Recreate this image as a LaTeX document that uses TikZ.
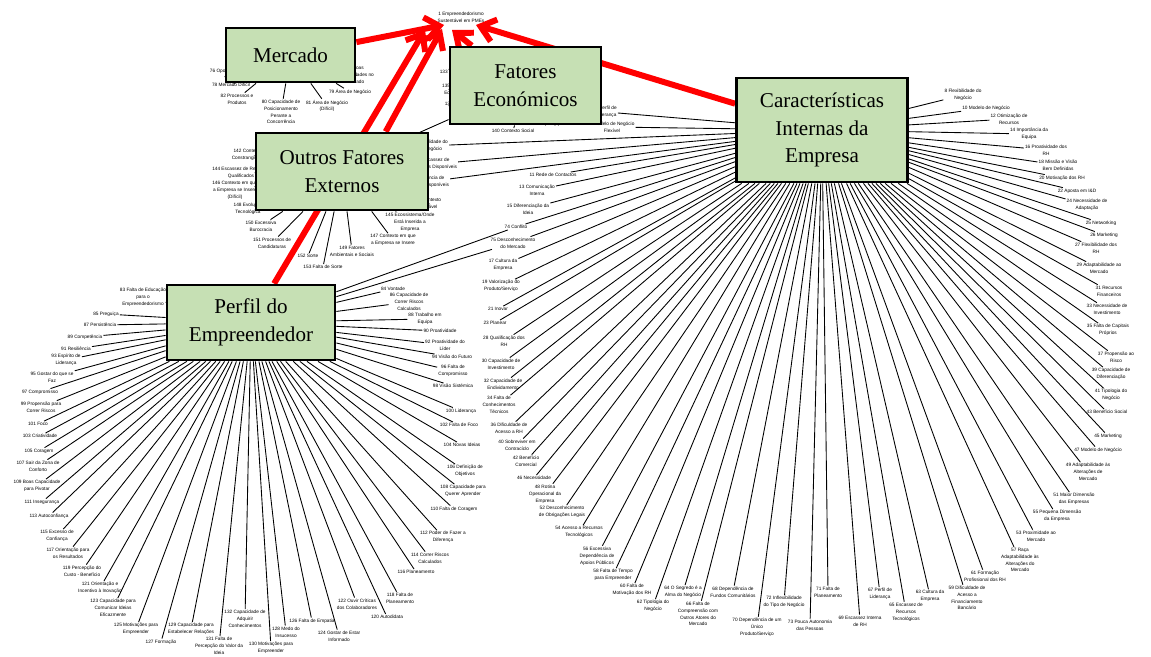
\documentclass[tikz,border=0pt]{standalone}
\usepackage{fontspec}
\newfontfamily\lblfont{Liberation Sans}
\newfontfamily\boxfont{Liberation Serif}
\usetikzlibrary{arrows.meta,calc}
\definecolor{boxgreen}{RGB}{198,224,180}
\pgfdeclarelayer{back}
\pgfdeclarelayer{mid}
\pgfsetlayers{back,mid,main}
\tikzset{
  cluster/.style={draw,line width=1.6pt,fill=boxgreen,align=center,
                  font=\boxfont\fontsize{12}{15.6}\selectfont,inner sep=0pt},
  idea/.style   ={align=center,font=\lblfont\fontsize{2.7}{3.9}\selectfont,inner sep=0.5pt},
  lnk/.style    ={line width=0.5pt},
  hit/.style    ={red,line width=3.4pt,-{Straight Barb[length=8pt,width=13pt]}},
}

\begin{document}
\begin{tikzpicture}[x=0.02cm,y=-0.02cm]
\useasboundingbox (0,0) rectangle (1151,656);
% clusters
\node[cluster,minimum width=2.58cm,minimum height=1.08cm] (mer) at (290.5,55) {Mercado};
\node[cluster,minimum width=3.02cm,minimum height=1.54cm] (fat) at (525.5,85.5) {Fatores\\Económicos};
\node[cluster,minimum width=3.44cm,minimum height=1.54cm] (out) at (342,171.5) {Outros Fatores\\Externos};
\node[cluster,minimum width=3.42cm,minimum height=2.08cm] (car) at (822,130) {Características\\Internas da\\Empresa};
\node[cluster,minimum width=3.36cm,minimum height=1.50cm] (per) at (251,322.5) {Perfil do\\Empreendedor};
\node[idea] (emp) at (461,17) {1 Empreendedorismo\\Sustentável em PMEs};

\coordinate (tm) at (444,25);
\coordinate (tp) at (425,30);
\coordinate (to) at (442,29);
\coordinate (tf) at (452,30);
\coordinate (tc) at (476,25);
\coordinate (hid) at (380,150);

\begin{pgfonlayer}{back}
% caracteristicas internas
\foreach \n/\x/\y/\t in {
  4/612/127/{4 Modelo de Negócio\\Flexível},
  6/606/112/{6 Perfil de\\Liderança},
  8/963/95/{8 Flexibilidade do\\Negócio},
  10/986/108/{10 Modelo de Negócio},
  12/1009/119/{12 Otimização de\\Recursos},
  14/1029/134/{14 Importância da\\Equipa},
  16/1046/150/{16 Proatividade dos\\RH},
  18/1058/165/{18 Missão e Visão\\Bem Definidas},
  20/1062/178/{20 Motivação dos RH},
  22/1077/191/{22 Aposta em I\&D},
  24/1087/205/{24 Necessidade de\\Adaptação},
  25/1101/223/{25 Networking},
  26/1104/235/{26 Marketing},
  27/1096/248/{27 Flexibilidade dos\\RH},
  29/1099/268/{29 Adaptabilidade ao\\Mercado},
  31/1109/291/{31 Recursos\\Financeiros},
  33/1107/309/{33 Necessidade de\\Investimento},
  35/1108/330/{35 Falta de Capitais\\Próprios},
  37/1116/357/{37 Propensão ao\\Risco},
  39/1111/374/{39 Capacidade de\\Diferenciação},
  41/1111/395/{41 Tipologia do\\Negócio},
  43/1107/412/{43 Benefício Social},
  45/1108/436/{45 Marketing},
  47/1098/450/{47 Modelo de Negócio},
  49/1088/472/{49 Adaptabilidade às\\Alterações de\\Mercado},
  51/1074/499/{51 Maior Dimensão\\das Empresas},
  55/1057/516/{55 Pequena Dimensão\\da Empresa},
  53/1036/536/{53 Proximidade ao\\Mercado},
  57/1020/560/{57 Raça\\Adaptabilidade às\\Alterações do\\Mercado},
  61/985/576/{61 Formação\\Profissional dos RH},
  59/967/598/{59 Dificuldade de\\Acesso a\\Financiamento\\Bancário},
  63/930/596/{63 Cultura da\\Empresa},
  65/906/612/{65 Escassez de\\Recursos\\Tecnológicos},
  67/880/594/{67 Perfil de\\Liderança},
  69/860/621/{69 Escassez Interna\\de RH},
  71/828/592/{71 Falta de\\Planeamento},
  73/810/625/{73 Pouca Autonomia\\das Pessoas},
  72/784/602/{72 Inflexibilidade\\do Tipo de Negócio},
  70/757/627/{70 Dependência de um\\Único\\Produto/Serviço},
  68/733/592/{68 Dependência de\\Fundos Comunitários},
  66/698/614/{66 Falta de\\Compreensão com\\Outros Atores do\\Mercado},
  64/683/592/{64 O Segredo é a\\Alma do Negócio},
  62/653/606/{62 Tipologia do\\Negócio},
  60/632/590/{60 Falta de\\Motivação dos RH},
  58/613/575/{58 Falta de Tempo\\para Empreender},
  56/597/556/{56 Excessiva\\Dependência de\\Apoios Públicos},
  54/579/532/{54 Acesso a Recursos\\Tecnológicos},
  52/562/512/{52 Desconhecimento\\de Obrigações Legais},
  48/545/494/{48 Rotina\\Operacional da\\Empresa},
  46/534/478/{46 Necessidade},
  42/526/461/{42 Benefício\\Comercial},
  40/517/445/{40 Sobreviver em\\Contracíclo},
  36/509/428/{36 Dificuldade de\\Acesso a RH},
  34/499/405/{34 Falta de\\Conhecimentos\\Técnicos},
  32/503/384/{32 Capacidade de\\Endividamento},
  30/501/364/{30 Capacidade de\\Investimento},
  28/504/341/{28 Qualificação dos\\RH},
  23/495/323/{23 Planear},
  21/498/309/{21 Inovar},
  19/501/286/{19 Valorização do\\Produto/Serviço},
  17/503/265/{17 Cultura da\\Empresa},
  75/513/243/{75 Desconhecimento\\do Mercado},
  74/516/227/{74 Conflito},
  15/528/209/{15 Diferenciação da\\Ideia},
  13/537/190/{13 Comunicação\\Interna},
  11/553/175/{11 Rede de Contactos},
  9/425/146/{9 Sustentabilidade do\\Próprio Negócio},
  7/434/164/{7 Escassez de\\Recursos Disponíveis},
  5/426/182/{5 Insuficiência de\\Recursos Disponíveis}}
  {\node[idea] (n\n) at (\x,\y) {\t}; \draw[lnk] (car) -- (n\n);}
% perfil do empreendedor
\foreach \n/\x/\y/\t in {
  83/143/297/{83 Falta de Educação\\para o\\Empreendedorismo},
  85/106/314/{85 Preguiça},
  87/100/325/{87 Persistência},
  89/85/337/{89 Competência},
  91/76/349/{91 Resiliência},
  93/66/360/{93 Espírito de\\Liderança},
  95/52/377/{95 Gostar do que se\\Faz},
  97/40/392/{97 Compromisso},
  99/41/407/{99 Propensão para\\Correr Riscos},
  101/38/424/{101 Foco},
  103/40/436/{103 Criatividade},
  105/39/451/{105 Coragem},
  107/38/466/{107 Sair da Zona de\\Conforto},
  109/37/486/{109 Boas Capacidade\\para Pivotar},
  111/42/502/{111 Insegurança},
  113/49/516/{113 Autoconfiança},
  115/57/536/{115 Excesso de\\Confiança},
  117/68/553/{117 Orientação para\\os Resultados},
  119/82/571/{119 Percepção do\\Custo - Benefício},
  121/100/588/{121 Orientação e\\Incentivo à Inovação},
  123/113/608/{123 Capacidade para\\Comunicar Ideias\\Eficazmente},
  125/136/629/{125 Motivações para\\Empreender},
  127/161/642/{127 Formação},
  129/191/629/{129 Capacidade para\\Estabelecer Relações},
  131/219/646/{131 Falta de\\Percepção do Valor da\\Ideia},
  132/245/619/{132 Capacidade de\\Adquirir\\Conhecimentos},
  130/271/648/{130 Motivações para\\Empreender},
  128/286/632/{128 Medo do\\Insucesso},
  126/312/621/{126 Falta de Empatia},
  124/339/636/{124 Gostar de Estar\\Informado},
  122/357/604/{122 Ouvir Críticas\\dos Colaboradores},
  120/387/617/{120 Autodidata},
  118/400/598/{118 Falta de\\Planeamento},
  116/416/572/{116 Planeamento},
  114/430/558/{114 Correr Riscos\\Calculados},
  112/443/537/{112 Poder de Fazer a\\Diferença},
  110/454/509/{110 Falta de Coragem},
  108/463/491/{108 Capacidade para\\Querer Aprender},
  106/465/471/{106 Definição de\\Objetivos},
  104/462/445/{104 Novas Ideias},
  102/459/425/{102 Falta de Foco},
  100/461/411/{100 Liderança},
  98/453/386/{98 Visão Sistémica},
  96/453/371/{96 Falta de\\Compromisso},
  94/452/357/{94 Visão do Futuro},
  92/445/345/{92 Proatividade do\\Líder},
  90/440/331/{90 Proatividade},
  88/425/319/{88 Trabalho em\\Equipa},
  86/409/302/{86 Capacidade de\\Correr Riscos\\Calculados},
  84/393/289/{84 Vontade}}
  {\node[idea] (n\n) at (\x,\y) {\t}; \draw[lnk] (per) -- (n\n);}
\draw[lnk] (per) -- (n74);
\draw[lnk] (per) -- (n75);
% mercado
\foreach \n/\x/\y/\t in {
  76/242/71/{76 Oportunidades de Mercado},
  77/355/75/{77 Boas\\Oportunidades no\\Mercado},
  78/231/85/{78 Mercado Difícil},
  82/237/99/{82 Processos e\\Produtos},
  80/281/112/{80 Capacidade de\\Posicionamento\\Perante a\\Concorrência},
  81/327/106/{81 Área de Negócio\\(Difícil)},
  79/350/92/{79 Área de Negócio}}
  {\node[idea] (n\n) at (\x,\y) {\t}; \draw[lnk] (mer) -- (n\n);}
% fatores economicos
\foreach \n/\x/\y/\t in {
  133/461/72/{133 Falta de Capital},
  135/456/89/{135 Situação\\Económica},
  137/455/104/{137 Crise},
  139/552/121/{139 Contexto Económico\\(Difícil)},
  140/513/131/{140 Contexto Social}}
  {\node[idea] (n\n) at (\x,\y) {\t}; \draw[lnk] (fat) -- (n\n);}
\draw[lnk] (fat) -- (hid);
% outros fatores externos
\foreach \n/\x/\y/\t in {
  142/251/155/{142 Contexto de\\Constrangimentos},
  144/241/173/{144 Escassez de Recursos\\Qualificados},
  146/235/190/{146 Contexto em que\\a Empresa se Insere\\(Difícil)},
  148/248/209/{148 Evolução\\Tecnológica},
  150/261/226/{150 Excessiva\\Burocracia},
  151/272/243/{151 Processos de\\Candidaturas},
  152/308/256/{152 Sorte},
  153/323/267/{153 Falta de Sorte},
  149/352/251/{149 Fatores\\Ambientais e Sociais},
  147/393/240/{147 Contexto em que\\a Empresa se Insere},
  145/410/222/{145 Ecossistema/Onde\\Está Inserida a\\Empresa},
  143/427/203/{143 Contexto\\Favorável}}
  {\node[idea] (n\n) at (\x,\y) {\t}; \draw[lnk] (out) -- (n\n);}
\end{pgfonlayer}

\begin{pgfonlayer}{mid}
\draw[hit] (mer) -- (tm);
\draw[hit] (per) -- (tp);
\draw[hit] ($(out.north)!0.5!(out.north east)$) -- (to);
\draw[hit] ($(fat.north west)!0.15!(fat.north east)$) -- (tf);
\draw[hit] (car) -- (tc);
\end{pgfonlayer}
\end{tikzpicture}
\end{document}
